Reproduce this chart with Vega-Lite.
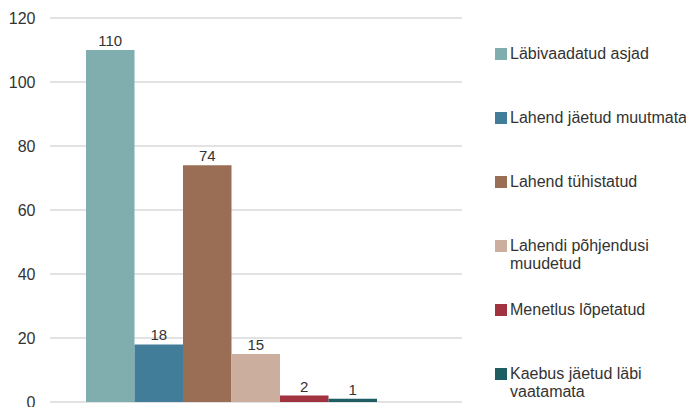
{
  "$schema": "https://vega.github.io/schema/vega-lite/v6.json",
  "width": 412,
  "height": 384,
  "autosize": "none",
  "padding": {"left": 50, "top": 18, "right": 224, "bottom": 5},
  "background": "white",
  "config": {
    "font": "Liberation Sans",
    "view": {"stroke": null}
  },
  "layer": [
    {
      "data": {"values": [{"v": 0}, {"v": 20}, {"v": 40}, {"v": 60}, {"v": 80}, {"v": 100}, {"v": 120}]},
      "mark": {"type": "rule", "color": "#d9d9d9", "strokeWidth": 1.5},
      "encoding": {
        "y": {"field": "v", "type": "quantitative", "scale": {"domain": [0, 120]}}
      }
    },
    {
      "data": {
        "values": [
          {"kategooria": "Läbivaadatud asjad", "arv": 110},
          {"kategooria": "Lahend jäetud muutmata", "arv": 18},
          {"kategooria": "Lahend tühistatud", "arv": 74},
          {"kategooria": "Lahendi põhjendusi muudetud", "arv": 15},
          {"kategooria": "Menetlus lõpetatud", "arv": 2},
          {"kategooria": "Kaebus jäetud läbi vaatamata", "arv": 1}
        ]
      },
      "encoding": {
        "x": {
          "field": "kategooria",
          "type": "nominal",
          "sort": null,
          "scale": {"paddingInner": 0, "paddingOuter": 0, "range": [36, 327]},
          "axis": null
        },
        "y": {
          "field": "arv",
          "type": "quantitative",
          "scale": {"domain": [0, 120]},
          "axis": {
            "values": [0, 20, 40, 60, 80, 100, 120],
            "domain": false,
            "ticks": false,
            "grid": false,
            "labelFont": "Liberation Sans",
            "labelFontSize": 16,
            "labelColor": "#333333",
            "labelPadding": 15,
            "title": null
          }
        }
      },
      "layer": [
        {
          "mark": {"type": "bar"},
          "encoding": {
            "color": {
              "field": "kategooria",
              "type": "nominal",
              "sort": null,
              "scale": {
                "domain": ["Läbivaadatud asjad", "Lahend jäetud muutmata", "Lahend tühistatud", "Lahendi põhjendusi muudetud", "Menetlus lõpetatud", "Kaebus jäetud läbi vaatamata"],
                "range": ["#80aeae", "#417c98", "#9a6e55", "#cbae9d", "#a0333f", "#1e5e63"]
              },
              "legend": {
                "orient": "none",
                "legendX": 443,
                "legendY": 28,
                "title": null,
                "symbolType": "square",
                "symbolSize": 144,
                "symbolStrokeWidth": 0,
                "labelFont": "Liberation Sans",
                "labelFontSize": 16,
                "labelColor": "#333333",
                "labelOffset": 1,
                "labelLimit": 300,
                "gridAlign": "all",
                "rowPadding": 30,
                "labelExpr": "datum.label == 'Lahendi põhjendusi muudetud' ? ['Lahendi põhjendusi', 'muudetud'] : datum.label == 'Kaebus jäetud läbi vaatamata' ? ['Kaebus jäetud läbi', 'vaatamata'] : datum.label"
              }
            }
          }
        },
        {
          "mark": {"type": "text", "dy": -9, "fontSize": 15, "color": "#333333", "font": "Liberation Sans"},
          "encoding": {
            "text": {"field": "arv", "type": "quantitative"}
          }
        }
      ]
    }
  ]
}
